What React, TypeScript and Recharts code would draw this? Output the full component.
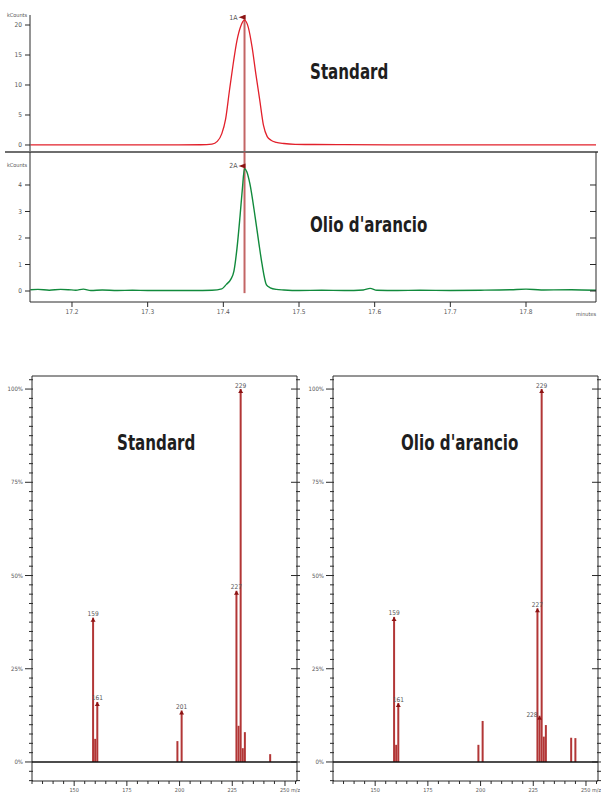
import React from "react";
import {
  LineChart,
  Line,
  XAxis,
  YAxis,
  ReferenceLine,
  ReferenceDot,
  BarChart,
  Bar,
  LabelList,
} from "recharts";

const FONT = "'Liberation Sans Narrow', 'DejaVu Sans Condensed', 'Liberation Sans', sans-serif";

// chromatograms (minutes vs kCounts)
const stdTime = [17.145, 17.18, 17.22, 17.26, 17.3, 17.34, 17.37, 17.385, 17.392, 17.398, 17.403, 17.408, 17.413, 17.418, 17.423, 17.428, 17.433, 17.438, 17.443, 17.448, 17.453, 17.458, 17.463, 17.47, 17.48, 17.495, 17.52, 17.56, 17.62, 17.7, 17.78, 17.8925];
const stdCounts = [0.03, 0.03, 0.02, 0.03, 0.02, 0.02, 0.04, 0.15, 0.6, 1.9, 4.3, 9.0, 13.5, 17.4, 19.8, 20.8, 19.6, 16.3, 11.8, 7.6, 3.3, 1.4, 0.8, 0.45, 0.25, 0.12, 0.08, 0.05, 0.03, 0.02, 0.02, 0.02];

const oilTime = [17.145, 17.155, 17.17, 17.185, 17.195, 17.205, 17.215, 17.225, 17.24, 17.26, 17.28, 17.3, 17.33, 17.36, 17.385, 17.398, 17.404, 17.41, 17.414, 17.418, 17.422, 17.425, 17.428, 17.431, 17.435, 17.442, 17.447, 17.451, 17.457, 17.462, 17.47, 17.48, 17.5, 17.53, 17.56, 17.585, 17.594, 17.603, 17.63, 17.66, 17.7, 17.74, 17.78, 17.8, 17.82, 17.86, 17.8925];
const oilCounts = [0.05, 0.06, 0.03, 0.06, 0.05, 0.03, 0.07, 0.02, 0.04, 0.02, 0.03, 0.02, 0.02, 0.02, 0.03, 0.08, 0.25, 0.45, 0.75, 1.6, 2.8, 3.8, 4.62, 4.5, 4.06, 2.8, 1.8, 1.04, 0.23, 0.12, 0.06, 0.04, 0.02, 0.03, 0.02, 0.04, 0.1, 0.03, 0.02, 0.03, 0.02, 0.03, 0.05, 0.07, 0.04, 0.05, 0.03];

const timeTicks = [17.2, 17.3, 17.4, 17.5, 17.6, 17.7, 17.8];
const stdCountTicks = [0, 5, 10, 15, 20];
const oilCountTicks = [0, 1, 2, 3, 4];
const peakTime = 17.428;

// mass spectra (m/z vs relative abundance %)
const stdMz = [159, 160, 161, 199, 201, 227, 228, 229, 230, 231, 243];
const stdAbund = [38.7, 6.2, 16.1, 5.6, 13.8, 45.9, 9.7, 100, 3.7, 8.0, 2.1];
const stdLabels = ["159", "", "161", "", "201", "227", "", "229", "", "", ""];

const oilMz = [159, 160, 161, 199, 201, 227, 228, 229, 230, 231, 243, 245];
const oilAbund = [38.9, 4.6, 15.8, 4.6, 11.0, 41.2, 12.4, 100, 6.8, 9.9, 6.5, 6.4];
const oilLabels = ["159", "", "161", "", "", "227", "228", "229", "", "", "", ""];

const mzMajor = [150, 175, 200, 225, 250];
const pctMajor = [0, 25, 50, 75, 100];
const mzTicks = Array.from({ length: 26 }, (_, i) => 130 + i * 5);
const pctTicks = Array.from({ length: 44 }, (_, i) => -5 + i * 2.5);

const AXIS = "#2a2a2a";
const TXT = "#555";

const PctTick = (props: any) => {
  const { x, y, payload, side } = props;
  const v = payload.value;
  const major = pctMajor.includes(v);
  if (side === "right") {
    return (
      <line x1={major ? x - 6 : x - 1} x2={x + 3} y1={y} y2={y} stroke={AXIS} strokeWidth={1} />
    );
  }
  return (
    <g>
      <line x1={major ? x - 7 : x - 3} x2={x + 1} y1={y} y2={y} stroke={AXIS} strokeWidth={1} />
      {major && (
        <text x={x - 9} y={y + 2} textAnchor="end" fontSize={6} fill={TXT} fontFamily={FONT}>
          {v}%
        </text>
      )}
    </g>
  );
};

const MzTick = (props: any) => {
  const { x, y, payload } = props;
  const v = payload.value;
  const major = mzMajor.includes(v);
  return (
    <g>
      <line x1={x} x2={x} y1={y} y2={y + (major ? 5 : 3)} stroke={AXIS} strokeWidth={1} />
      {major && (
        <text
          x={v === 250 ? x - 5 : x}
          y={y + 10.5}
          textAnchor={v === 250 ? "start" : "middle"}
          fontSize={5.5}
          fill={TXT}
          fontFamily={FONT}
        >
          {v === 250 ? "250 m/z" : v}
        </text>
      )}
    </g>
  );
};

const renderPeakLabel = (props: any) => {
  const { x, y, width, value } = props;
  if (!value) return null;
  const cx = Number(x) + Number(width) / 2;
  const top = Number(y);
  const aside = value === "228";
  return (
    <g>
      <polygon points={`${cx - 2.5},${top + 4} ${cx + 2.5},${top + 4} ${cx},${top}`} fill="#8c1414" />
      <text
        x={aside ? cx - 2 : cx}
        y={aside ? top + 1.5 : top - 1.5}
        textAnchor={aside ? "end" : "middle"}
        fontSize={6.5}
        fill={TXT}
        fontFamily={FONT}
      >
        {value}
      </text>
    </g>
  );
};

const peakFlag = (label: string) => (props: any) => {
  const { cx, cy } = props;
  return (
    <g>
      <polygon points={`${cx - 6},${cy} ${cx + 1},${cy - 2.5} ${cx + 1},${cy + 2.5}`} fill="#8c1414" />
      <text x={cx - 7} y={cy + 2.5} textAnchor="end" fontSize={7} fill={TXT} fontFamily={FONT}>
        {label}
      </text>
    </g>
  );
};

function Spectrum({ mz, abund, labels, width, axisWidth }: any) {
  const data = mz.map((m: number, i: number) => ({ mz: m, abund: abund[i], label: labels[i] }));
  return (
    <BarChart width={width} height={440} data={data} margin={{ top: 6, right: 2, bottom: 4, left: 0 }}>
      <XAxis
        type="number"
        dataKey="mz"
        domain={[130, 255.7]}
        allowDataOverflow
        ticks={mzTicks}
        interval={0}
        tickSize={0}
        tickMargin={0}
        tickLine={false}
        tick={<MzTick />}
        height={25}
        axisLine={{ stroke: AXIS }}
      />
      <YAxis
        yAxisId="l"
        width={axisWidth}
        domain={[-5.1, 103.5]}
        allowDataOverflow
        ticks={pctTicks}
        interval={0}
        tickSize={0}
        tickMargin={0}
        tickLine={false}
        tick={<PctTick side="left" />}
        axisLine={{ stroke: AXIS }}
      />
      <YAxis
        yAxisId="r"
        orientation="right"
        width={1}
        domain={[-5.1, 103.5]}
        allowDataOverflow
        ticks={pctTicks}
        interval={0}
        tickSize={0}
        tickMargin={0}
        tickLine={false}
        tick={<PctTick side="right" />}
        axisLine={{ stroke: AXIS }}
      />
      <ReferenceLine yAxisId="l" y={103.5} stroke={AXIS} />
      <ReferenceLine yAxisId="l" y={0} stroke="#111" strokeWidth={1.3} />
      <Bar yAxisId="l" dataKey="abund" fill="#b23636" barSize={2} isAnimationActive={false}>
        <LabelList dataKey="label" content={renderPeakLabel} />
      </Bar>
    </BarChart>
  );
}

const tickStyle = { fontSize: 6.5, fill: TXT, fontFamily: FONT };

export default function App() {
  const stdData = stdTime.map((t, i) => ({ t, v: stdCounts[i] }));
  const oilData = oilTime.map((t, i) => ({ t, v: oilCounts[i] }));
  const stdPeak = Math.max(...stdCounts);
  const oilPeak = Math.max(...oilCounts);

  const title: React.CSSProperties = {
    position: "absolute",
    fontFamily: FONT,
    fontWeight: 700,
    fontSize: 21,
    color: "#1e1e1e",
    whiteSpace: "nowrap",
    lineHeight: "22px",
    transform: "scaleX(0.8)",
    transformOrigin: "0 50%",
  };
  const small: React.CSSProperties = {
    position: "absolute",
    fontFamily: FONT,
    fontSize: 5.5,
    color: TXT,
    whiteSpace: "nowrap",
    lineHeight: "6px",
  };

  return (
    <div style={{ position: "absolute", left: 0, top: 0, width: 601, height: 793, overflow: "hidden", background: "#fff" }}>
      <div style={{ position: "absolute", left: 0, top: 0 }}>
        <LineChart width={601} height={152} data={stdData} margin={{ top: 15, right: 5, bottom: 0, left: 0 }}>
          <XAxis type="number" dataKey="t" domain={[17.1445, 17.8925]} allowDataOverflow hide />
          <YAxis
            width={30}
            domain={[-1.167, 21.667]}
            allowDataOverflow
            ticks={stdCountTicks}
            interval={0}
            tickSize={5}
            tickMargin={3}
            tick={tickStyle}
            axisLine={{ stroke: AXIS }}
            tickLine={{ stroke: AXIS }}
          />
          <ReferenceLine x={peakTime} stroke="#b94a4a" strokeWidth={2} strokeOpacity={0.85} />
          <Line dataKey="v" type="monotone" stroke="#e2202b" strokeWidth={1.3} dot={false} isAnimationActive={false} />
          <ReferenceDot x={peakTime} y={stdPeak + 0.5} r={0} shape={peakFlag("1A")} />
        </LineChart>
      </div>
      <div style={{ position: "absolute", left: 5, top: 151, width: 593, height: 2, background: "#6e6e6e" }} />
      <div style={{ position: "absolute", left: 0, top: 152 }}>
        <LineChart width={601} height={175} data={oilData} margin={{ top: 0, right: 5, bottom: 5, left: 0 }}>
          <XAxis
            type="number"
            dataKey="t"
            domain={[17.1445, 17.8925]}
            allowDataOverflow
            ticks={timeTicks}
            interval={0}
            tickSize={5}
            tickMargin={2}
            height={20}
            tick={tickStyle}
            tickFormatter={(v: number) => v.toFixed(1)}
            axisLine={{ stroke: AXIS }}
            tickLine={{ stroke: AXIS }}
          />
          <YAxis
            width={30}
            domain={[-0.415, 5.245]}
            allowDataOverflow
            ticks={oilCountTicks}
            interval={0}
            tickSize={5}
            tickMargin={3}
            tick={tickStyle}
            axisLine={{ stroke: AXIS }}
            tickLine={{ stroke: AXIS }}
          />
          <YAxis
            yAxisId="r"
            orientation="right"
            mirror
            domain={[-0.415, 5.245]}
            allowDataOverflow
            ticks={oilCountTicks}
            interval={0}
            tickSize={6}
            tickFormatter={() => ""}
            axisLine={{ stroke: AXIS }}
            tickLine={{ stroke: AXIS }}
          />
          <ReferenceLine
            segment={[
              { x: peakTime, y: -0.08 },
              { x: peakTime, y: 5.245 },
            ]}
            stroke="#b94a4a"
            strokeWidth={2}
            strokeOpacity={0.85}
          />
          <Line dataKey="v" type="monotone" stroke="#118a3c" strokeWidth={1.4} dot={false} isAnimationActive={false} />
          <ReferenceDot x={peakTime} y={oilPeak + 0.1} r={0} shape={peakFlag("2A")} />
        </LineChart>
      </div>
      <div style={{ ...small, left: 7, top: 12 }}>kCounts</div>
      <div style={{ ...small, left: 7, top: 162 }}>kCounts</div>
      <div style={{ ...small, left: 576, top: 311 }}>minutes</div>
      <div style={{ ...title, left: 310, top: 61 }}>Standard</div>
      <div style={{ ...title, left: 310, top: 214 }}>Olio d'arancio</div>

      <div style={{ position: "absolute", left: 0, top: 370 }}>
        <Spectrum mz={stdMz} abund={stdAbund} labels={stdLabels} width={300} axisWidth={32} />
      </div>
      <div style={{ position: "absolute", left: 300, top: 370 }}>
        <Spectrum mz={oilMz} abund={oilAbund} labels={oilLabels} width={301} axisWidth={33} />
      </div>
      <div style={{ ...title, left: 117, top: 432 }}>Standard</div>
      <div style={{ ...title, left: 401, top: 432 }}>Olio d'arancio</div>
    </div>
  );
}
